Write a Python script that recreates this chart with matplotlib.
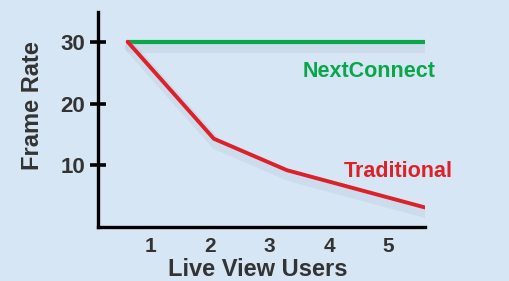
# Frame rate vs live view users: NextConnect vs traditional
import numpy as np
import matplotlib.pyplot as plt
import matplotlib.patheffects as pe

users_next = [0.61, 5.64]
fps_next = [30, 30]

users_trad = [0.61, 2.06, 3.29, 5.64]
fps_trad = [30, 14.3, 9.2, 3.1]

x_ticks = [1, 2, 3, 4, 5]
y_ticks = [10, 20, 30]

plt.rcParams['font.family'] = ['Liberation Sans', 'DejaVu Sans']
plt.rcParams['font.weight'] = 'bold'

fig = plt.figure(figsize=(5.1, 2.81), dpi=100)
fig.patch.set_facecolor('#d6e6f5')
ax = fig.add_axes([0.192, 0.192, 0.641, 0.765])
ax.set_facecolor('none')

shadow = [pe.SimpleLineShadow(offset=(2, -4), shadow_color='#9fb4c9', alpha=0.18, linewidth=8), pe.Normal()]

ax.plot(users_next, fps_next, color='#0aa64a', linewidth=3.0, solid_capstyle='round', path_effects=shadow)
ax.plot(users_trad, fps_trad, color='#dc2128', linewidth=2.8, solid_capstyle='round', path_effects=shadow)

ax.text(4.67, 25.2, 'NextConnect', color='#0aa64a', fontsize=15.5, fontweight='bold', ha='center', va='center')
ax.text(5.16, 9.0, 'Traditional', color='#dc2128', fontsize=15.5, fontweight='bold', ha='center', va='center')

ax.set_xlim([0.11, 5.61])
ax.set_ylim([0, 34.8])

for s in ['top', 'right']:
    ax.spines[s].set_visible(False)
for s in ['left', 'bottom']:
    ax.spines[s].set_linewidth(2.4)
    ax.spines[s].set_color('black')

ax.set_xticks(x_ticks)
ax.set_yticks(y_ticks)
ax.tick_params(axis='x', length=0, pad=7, labelsize=15, labelcolor='#333333')
ax.tick_params(axis='y', length=12, width=2.6, direction='inout', pad=3, labelsize=16, labelcolor='#333333')

ax.set_xlabel('Live View Users', fontsize=17, fontweight='bold', color='#333333')
ax.set_ylabel('Frame Rate', fontsize=17, fontweight='bold', color='#333333')
ax.xaxis.set_label_coords(0.49, -0.145)
ax.yaxis.set_label_coords(-0.165, 0.565)

fig.savefig('out.png', dpi=100, facecolor=fig.get_facecolor())
